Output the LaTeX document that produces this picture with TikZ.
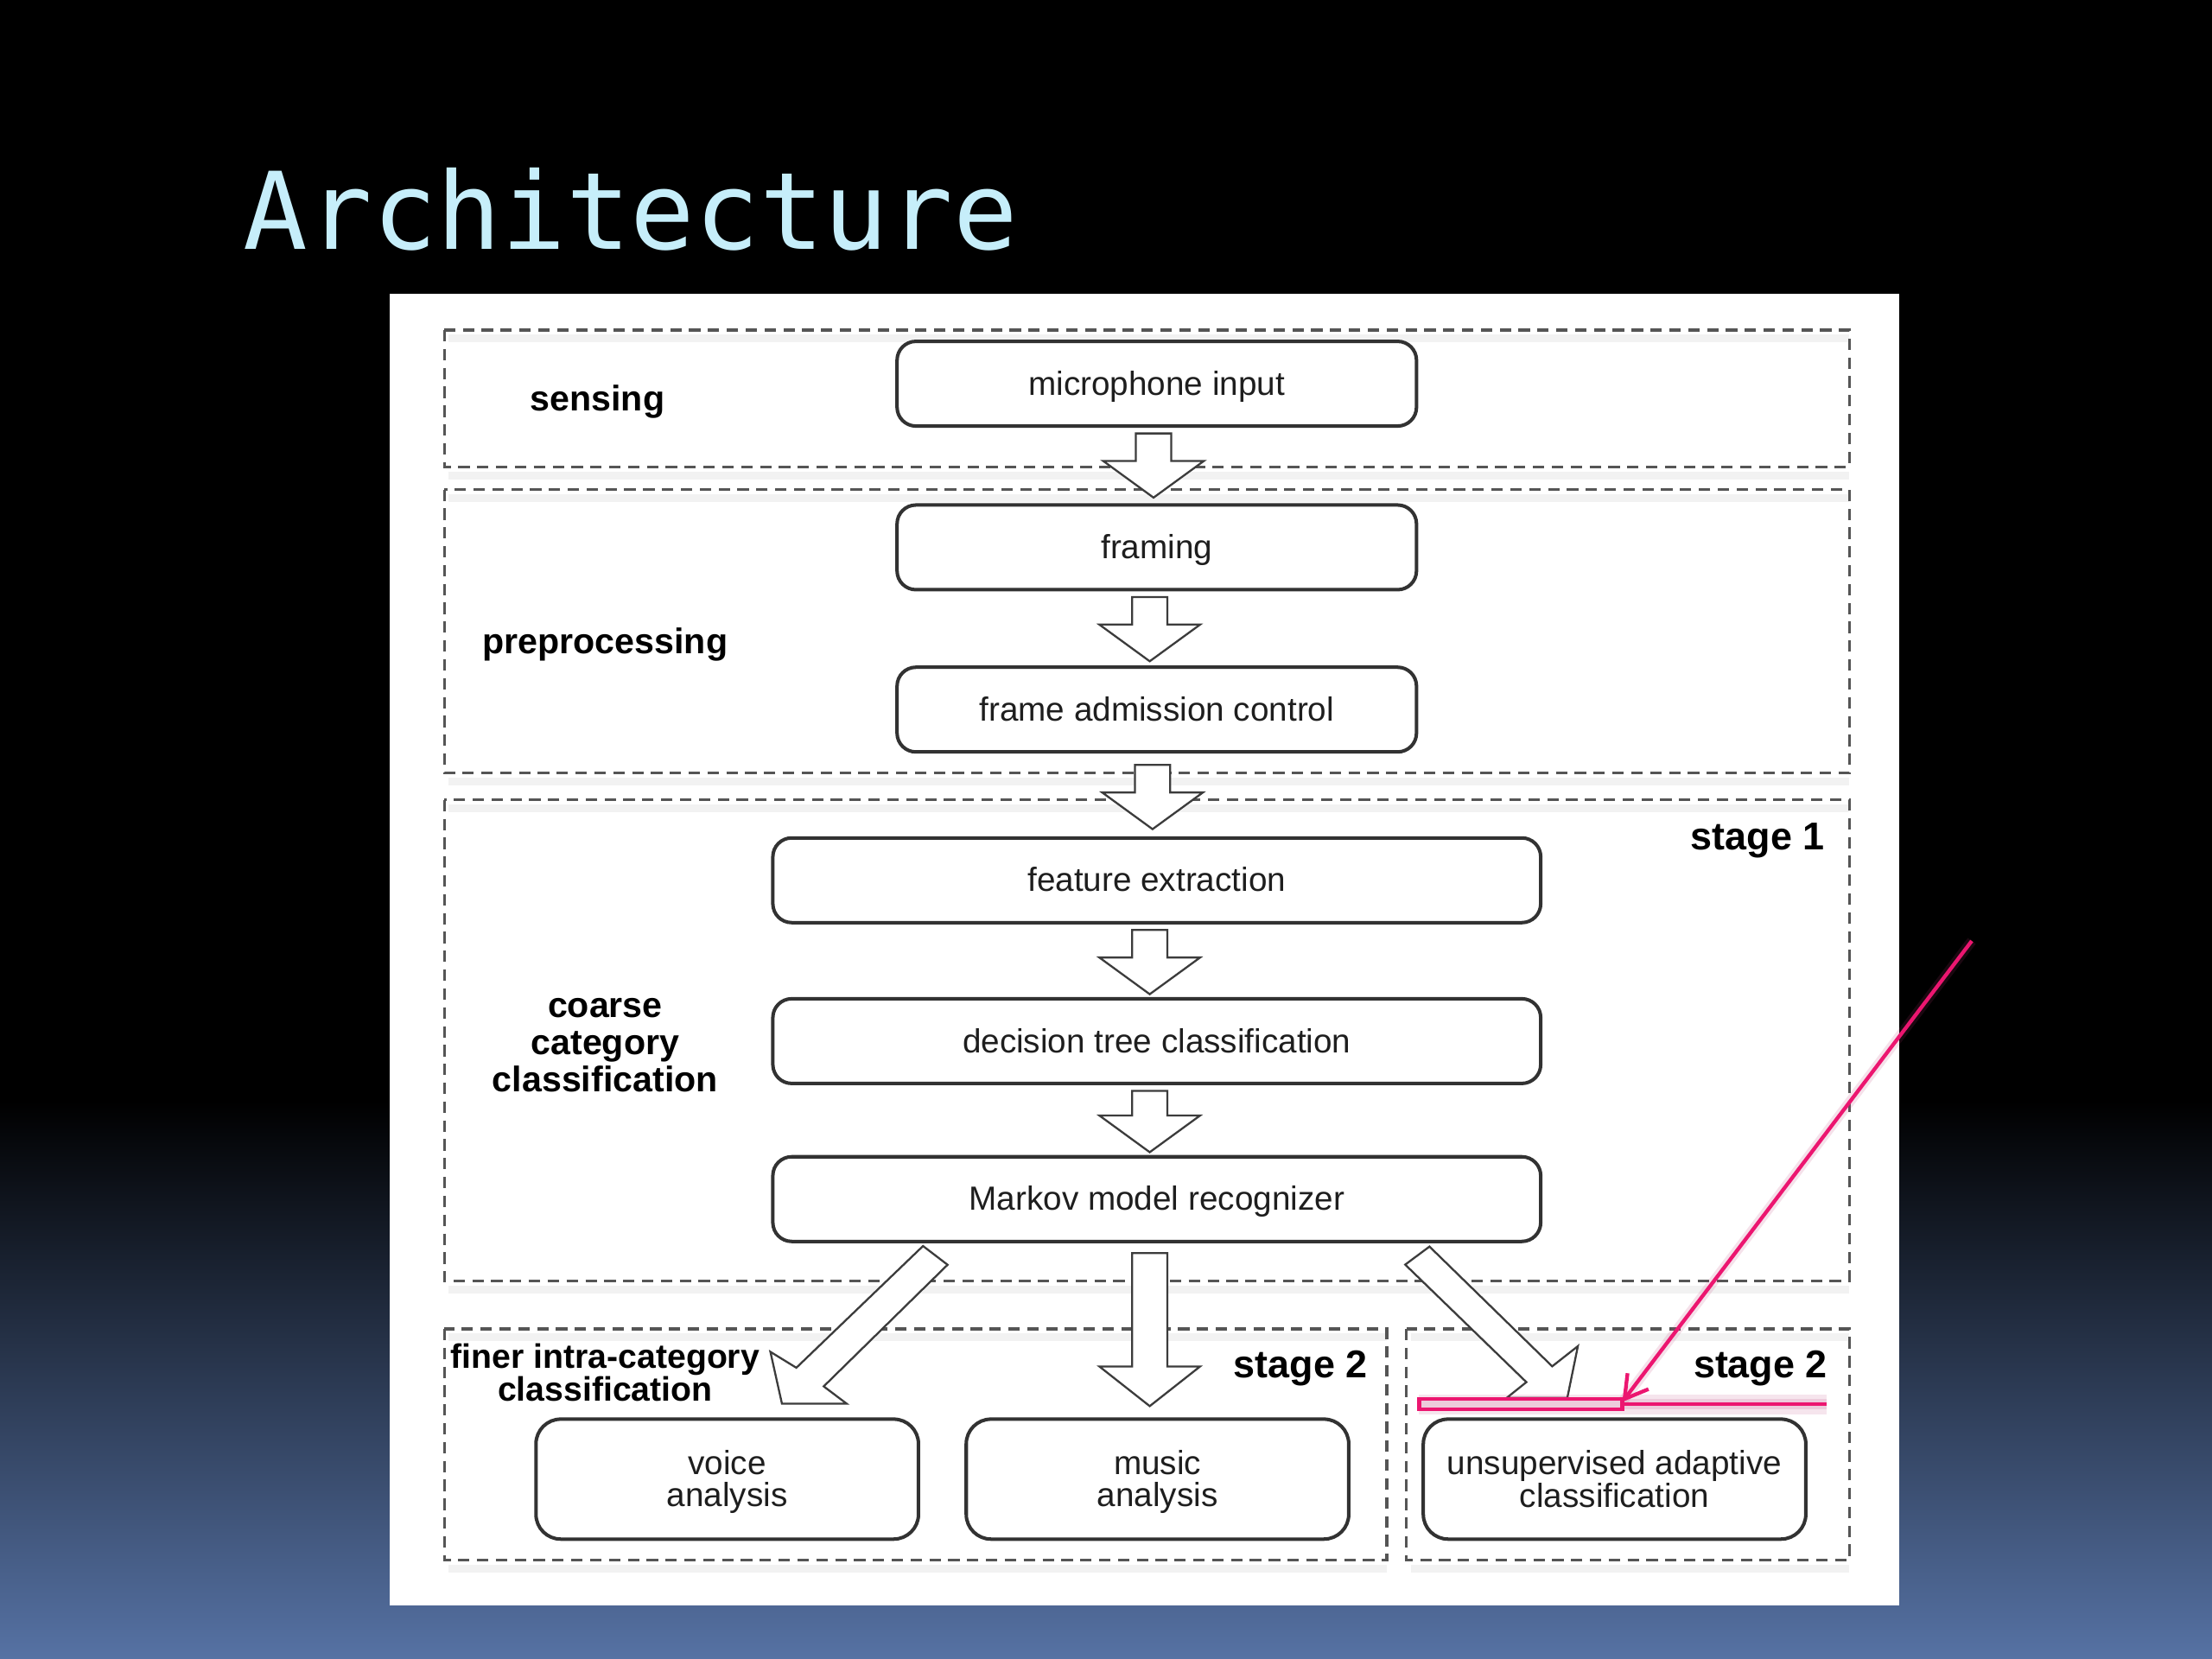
\documentclass[tikz,border=0pt]{standalone}
\usepackage{fontspec}
\setmainfont{Liberation Sans}
\newfontfamily\titlefont{DejaVu Sans Mono}
\usetikzlibrary{calc,arrows.meta}
\definecolor{titlecyan}{RGB}{198,238,250}
\definecolor{bgbot}{RGB}{86,114,164}
\definecolor{boxline}{RGB}{50,50,50}
\definecolor{dashline}{RGB}{85,85,85}
\definecolor{arrline}{RGB}{60,60,60}
\definecolor{hilite}{RGB}{236,22,112}
\definecolor{glowc}{RGB}{190,60,120}
\definecolor{txt}{RGB}{30,30,30}
\def\bsw{3.56pt}
\def\bhw{10.16pt}
\newcommand\blockarrow[3][7.4pt]{%
  \filldraw[barrow] let \p1=(#2), \p2=(#3),
    \n1={veclen(\x2-\x1,\y2-\y1)},
    \n2={(\x2-\x1)/\n1}, \n3={(\y2-\y1)/\n1} in
    ({\x1-(\n3)*\bsw},{\y1+(\n2)*\bsw})
    -- ({\x2-(\n2)*#1-(\n3)*\bsw},{\y2-(\n3)*#1+(\n2)*\bsw})
    -- ({\x2-(\n2)*#1-(\n3)*\bhw},{\y2-(\n3)*#1+(\n2)*\bhw})
    -- (\x2,\y2)
    -- ({\x2-(\n2)*#1+(\n3)*\bhw},{\y2-(\n3)*#1-(\n2)*\bhw})
    -- ({\x2-(\n2)*#1+(\n3)*\bsw},{\y2-(\n3)*#1-(\n2)*\bsw})
    -- ({\x1+(\n3)*\bsw},{\y1-(\n2)*\bsw}) -- cycle;}
\begin{document}
\begin{tikzpicture}[x=0.01cm,y=-0.01cm,
  zone/.style={draw=dashline, line width=0.6pt, dash pattern=on 2.3pt off 1.5pt},
  zoneshadow/.style={draw=black, opacity=0.05, line width=1.6pt},
  stepbox/.style={draw=boxline, fill=white, line width=0.7pt, rounded corners=3.8pt,
    minimum height=0.6cm, inner sep=0pt, text=txt,
    font=\fontsize{6.74}{7.6}\selectfont, text height=6pt, text depth=1.42pt},
  leafbox/.style={draw=boxline, fill=white, line width=0.7pt, rounded corners=5pt,
    minimum width=2.71cm, minimum height=0.85cm, inner sep=0pt, text=txt, align=center,
    font=\fontsize{6.74}{6.54}\selectfont},
  lbl/.style={inner sep=0pt, text=black, font=\bfseries\fontsize{7.17}{7.54}\selectfont},
  stagelbl/.style={inner sep=0pt, text=black, anchor=east, font=\bfseries\fontsize{7.82}{8.5}\selectfont},
  barrow/.style={draw=arrline, fill=white, line width=0.4pt, line join=miter},
  glow/.style={draw=glowc, opacity=0.13, line width=4pt},
  glowin/.style={draw=glowc, opacity=0.15, line width=2pt},
  pinkline/.style={draw=hilite, line width=0.75pt}]
\useasboundingbox (0,0) rectangle (1568,1176);
% slide background
\fill[black] (0,0) rectangle (1568,782);
\shade[top color=black, bottom color=bgbot] (0,780) rectangle (1568,1176);
\node[anchor=base west, inner sep=0pt, text=titlecyan,
  font=\titlefont\fontsize{21.6}{24}\selectfont] (title) at (172,176.6) {Architecture};
% white panel
\fill[white] (276,208) rectangle (1346,1138);
% zone shadows
\foreach \a/\b/\c/\d in {315/234/1311/331, 315/347/1311/548, 315/567/1311/908,
  315/942/983/1106, 997/942/1311/1106}{
  \draw[zoneshadow] (\a+3,\b+6) -- (\c,\b+6);
  \draw[zoneshadow] (\a+3,\d+6) -- (\c,\d+6);
}
% zones
\draw[zone] (315,234) rectangle (1311,331);
\draw[zone] (315,347) rectangle (1311,548);
\draw[zone] (315,567) rectangle (1311,908);
\draw[zone] (315,942) rectangle (983,1106);
\draw[zone] (997,942) rectangle (1311,1106);
% labels
\node[lbl] (sensing) at (423.5,285) {sensing};
\node[lbl] (prep) at (429,457) {preprocessing};
\node[lbl, align=center] (coarse) at (429,741) {coarse\\category\\classification};
\node[stagelbl] (st1) at (1294,596) {stage 1};
\node[stagelbl] (st2a) at (970,970) {stage 2};
\node[stagelbl] (st2b) at (1296,970) {stage 2};
\node[lbl, align=center, font=\bfseries\fontsize{6.83}{6.6}\selectfont] (finer) at (429,973)
  {finer intra-category\\classification};
% boxes
\node[stepbox, minimum width=3.68cm] (mic) at (820,272) {microphone input};
\node[stepbox, minimum width=3.68cm] (framing) at (820,388) {framing};
\node[stepbox, minimum width=3.68cm] (fac) at (820,503) {frame admission control};
\node[stepbox, minimum width=5.44cm] (feat) at (820,624) {feature extraction};
\node[stepbox, minimum width=5.44cm] (dtc) at (820,738) {decision tree classification};
\node[stepbox, minimum width=5.44cm] (markov) at (820,850) {Markov model recognizer};
\node[leafbox] (voice) at (515.5,1048.5) {\rule{0pt}{6pt}voice\\analysis};
\node[leafbox] (music) at (820.5,1048.5) {\rule{0pt}{6pt}music\\analysis};
\node[leafbox] (unsup) at (1144.5,1048.5) {unsupervised adaptive\\classification};
% block arrows
\blockarrow{$(mic.south)+(-2.3,4)$}{$(framing.north)+(-2.3,-4)$}
\blockarrow{$(framing.south)+(-5,4)$}{$(fac.north)+(-5,-3)$}
\blockarrow{$(fac.south)+(-3,8)$}{$(feat.north)+(-3,-5)$}
\blockarrow{$(feat.south)+(-5,4)$}{$(dtc.north)+(-5,-2)$}
\blockarrow{$(dtc.south)+(-5,4)$}{$(markov.north)+(-5,-2)$}
\blockarrow[8pt]{$(markov.south)+(-5,7)$}{$(music.north)+(-5.5,-8)$}
% diagonal block arrow to voice analysis
\filldraw[barrow] ($(markov.south)+(-165.7,2)$) -- ($(markov.south)+(-148.3,15.3)$)
  -- ($(voice.north)+(68.4,-22)$) -- ($(voice.north)+(84.7,-9.7)$)
  -- ($(voice.north)+(38.8,-9.7)$) -- ($(voice.north)+(30.6,-46.5)$)
  -- ($(voice.north)+(49,-35.2)$) -- cycle;
% diagonal block arrow to unsupervised adaptive classification
\filldraw[barrow] ($(markov.south)+(193.3,2.4)$) -- ($(markov.south)+(176.1,15.2)$)
  -- ($(unsup.north)+(-62.5,-25)$) -- ($(unsup.north)+(-76.5,-13.8)$)
  -- ($(unsup.north)+(-33.5,-13.8)$) -- ($(unsup.north)+(-26,-50.5)$)
  -- ($(unsup.north)+(-44.2,-36.2)$) -- cycle;
% pink annotation
\coordinate (pinkS) at (1397.7,667);
\coordinate (pinkT) at ($(unsup.north)+(5.5,-11)$);
\coordinate (barL) at ($(unsup.north)+(-138.5,-13.2)$);
\coordinate (barM) at ($(unsup.north)+(5.5,-5.6)$);
\coordinate (barR) at ($(unsup.north)+(150.5,-9.4)$);
\draw[glowin] (pinkS) -- (pinkT);
\draw[glow] (barL |- barR) -- (barR);
\draw[glowin] (barL |- barR) -- (barR);
\draw[pinkline, -{Straight Barb[length=4.5pt, width=5.3pt]}] (pinkS) -- (pinkT);
\draw[pinkline] (barL) rectangle (barM);
\draw[pinkline] (barM |- barR) -- (barR);
\end{tikzpicture}
\end{document}
